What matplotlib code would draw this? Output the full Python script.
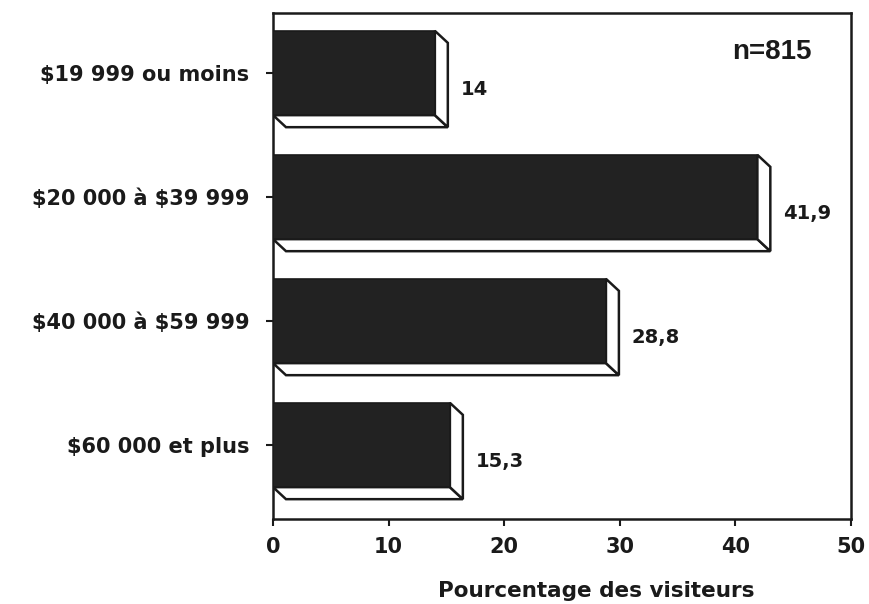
import matplotlib
matplotlib.use("Agg")
import matplotlib.pyplot as plt
from matplotlib.patches import Polygon, Rectangle

# Revenu familial des visiteurs (%)
categories = ["$19 999 ou moins", "$20 000 à $39 999", "$40 000 à $59 999", "$60 000 et plus"]
values = [14, 41.9, 28.8, 15.3]
labels = ["14", "41,9", "28,8", "15,3"]
n_text = "n=815"

plt.rcParams['font.family'] = ['DejaVu Sans']
plt.rcParams['font.weight'] = 'bold'
plt.rcParams['text.parse_math'] = False  # les "$" sont du texte

ink = '#1a1a1a'
fig = plt.figure(figsize=(8.69, 6.04), dpi=100)
ax = fig.add_axes([0.3142, 0.1407, 0.6651, 0.8378])

h = 0.68      # hauteur de la face avant
dx = 1.12     # profondeur (axe x, en %)
dy = 0.097    # profondeur (axe y)

for i, v in enumerate(values):
    top = i - h / 2
    bot = i + h / 2
    # face du dessous
    ax.add_patch(Polygon([(0, bot), (v, bot), (v + dx, bot + dy), (dx, bot + dy)],
                         closed=True, facecolor='white', edgecolor=ink, lw=1.8, zorder=2))
    # face de droite
    ax.add_patch(Polygon([(v, top), (v + dx, top + dy), (v + dx, bot + dy), (v, bot)],
                         closed=True, facecolor='white', edgecolor=ink, lw=1.8, zorder=2))
    # face avant
    ax.add_patch(Rectangle((0, top), v, h, facecolor='#222222', edgecolor=ink, lw=1.2, zorder=3))
    ax.text(v + dx + 1.1, i + 0.13, labels[i], fontsize=14, fontweight='bold',
            va='center', ha='left', color=ink)

ax.text(0.863, 0.923, n_text, transform=ax.transAxes, fontsize=20, fontweight='bold',
        family='Liberation Sans', ha='center', va='center', color=ink)

ax.set_xlim(0, 50)
ax.set_ylim(3.597, -0.484)
ax.set_xticks([0, 10, 20, 30, 40, 50])
ax.set_yticks(range(len(categories)))
ax.set_yticklabels(categories)
ax.tick_params(axis='both', direction='out', length=5, width=1.5, colors=ink,
               labelsize=15)
ax.tick_params(axis='x', pad=8)
ax.tick_params(axis='y', pad=12)
for s in ax.spines.values():
    s.set_linewidth(1.8)
    s.set_color(ink)
ax.set_xlabel("Pourcentage des visiteurs", fontsize=15.5, fontweight='bold', color=ink,
              va='center')
ax.xaxis.set_label_coords(0.559, -0.143)

fig.savefig("out.png", dpi=100)
